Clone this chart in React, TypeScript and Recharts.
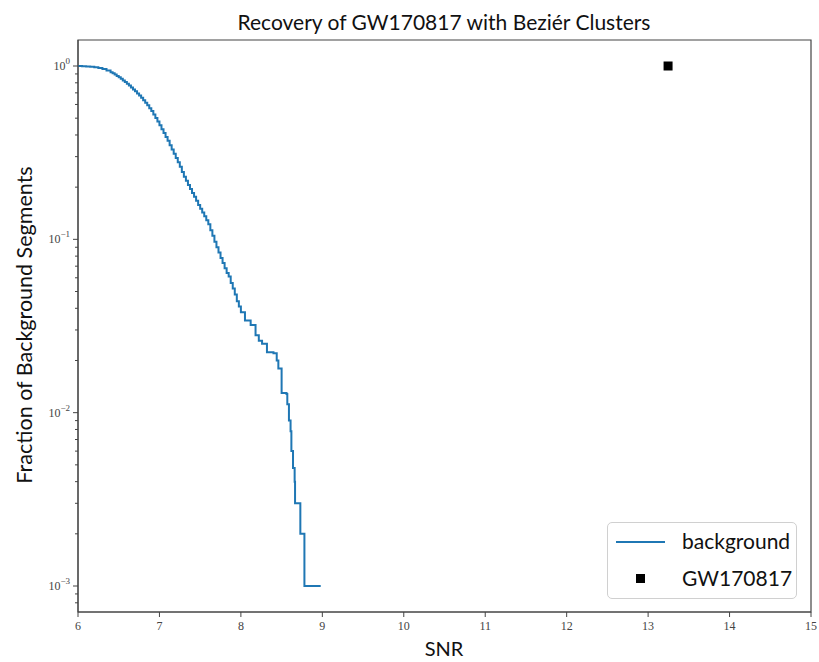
import React from 'react'
import {
  ComposedChart,
  Line,
  Scatter,
  XAxis,
  YAxis,
  ReferenceArea
} from 'recharts'

// background survival curve: SNR vs fraction of background segments
const bgSnr = [
  6.0, 6.05, 6.1, 6.15, 6.2, 6.25, 6.3, 6.35,
  6.4, 6.425, 6.45, 6.475, 6.5, 6.525, 6.55, 6.575,
  6.6, 6.625, 6.65, 6.675, 6.7, 6.725, 6.75, 6.775,
  6.8, 6.825, 6.85, 6.875, 6.9, 6.925, 6.95, 6.975,
  7.0, 7.025, 7.05, 7.075, 7.1, 7.125, 7.15, 7.175,
  7.2, 7.225, 7.25, 7.275, 7.3, 7.325, 7.35, 7.375,
  7.4, 7.425, 7.45, 7.475, 7.5, 7.525, 7.55, 7.575,
  7.6, 7.625, 7.65, 7.675, 7.7, 7.725, 7.75, 7.775,
  7.8, 7.825, 7.85, 7.875, 7.9, 7.925, 7.95, 7.975,
  8.0, 8.05, 8.12, 8.18, 8.22, 8.26, 8.32, 8.4,
  8.44, 8.46, 8.5, 8.56, 8.57, 8.59, 8.61, 8.62,
  8.64, 8.66, 8.665, 8.73, 8.78, 8.98
]
const bgFrac = [
  1.0, 0.998, 0.995, 0.99, 0.985, 0.975, 0.96, 0.942,
  0.92, 0.907, 0.893, 0.877, 0.86, 0.843, 0.826, 0.808,
  0.79, 0.771, 0.752, 0.733, 0.715, 0.695, 0.675, 0.655,
  0.635, 0.614, 0.593, 0.571, 0.55, 0.525, 0.502, 0.478,
  0.455, 0.432, 0.41, 0.39, 0.37, 0.349, 0.33, 0.312,
  0.295, 0.278, 0.262, 0.245, 0.23, 0.218, 0.206, 0.195,
  0.185, 0.176, 0.167, 0.158, 0.15, 0.143, 0.136, 0.129,
  0.122, 0.113, 0.105, 0.097, 0.09, 0.084, 0.078, 0.073,
  0.068, 0.064, 0.061, 0.056, 0.052, 0.048, 0.044, 0.041,
  0.038, 0.034, 0.032, 0.028, 0.026, 0.025, 0.0223, 0.022,
  0.02, 0.018, 0.013, 0.0128, 0.0112, 0.009, 0.0078, 0.006,
  0.0048, 0.004, 0.003, 0.002, 0.001, 0.001
]

const gwSnr = [13.245]
const gwFrac = [1.0]

const xTicks = [6, 7, 8, 9, 10, 11, 12, 13, 14, 15]
const yMajor = [1, 0.1, 0.01, 0.001]
const yMajorLabels = ['0', '\u22121', '\u22122', '\u22123']
const yMinor = [
  0.9, 0.8, 0.7, 0.6, 0.5, 0.4, 0.3, 0.2,
  0.09, 0.08, 0.07, 0.06, 0.05, 0.04, 0.03, 0.02,
  0.009, 0.008, 0.007, 0.006, 0.005, 0.004, 0.003, 0.002,
  0.0009, 0.0008
]

const yMin = Math.pow(10, -3.15)
const yMax = Math.pow(10, 0.15)

const bgData = bgSnr.map((snr, i) => ({ snr, frac: bgFrac[i] }))
const gwData = gwSnr.map((snr, i) => ({ snr, frac: gwFrac[i] }))

const BLUE = '#1f77b4'
const AXIS = '#444'
const SANS = 'Lato, "Open Sans", sans-serif'
const SERIF = '"Liberation Serif", "DejaVu Serif", serif'

const YTick = ({ x, y, payload }: any) => {
  const v = payload.value
  const idx = yMajor.findIndex(m => Math.abs(m - v) / m < 1e-6)
  const major = idx >= 0
  return (
    <g>
      <line x1={x} x2={x - (major ? 5 : 3)} y1={y} y2={y} stroke={AXIS} strokeWidth={1} />
      {major && (
        <text x={x - 8} y={y + 4} textAnchor="end" fontFamily={SERIF} fontSize={12} fill="#444">
          10
          <tspan dy={-6} fontSize={9}>{yMajorLabels[idx]}</tspan>
        </text>
      )}
    </g>
  )
}

const GwSquare = ({ cx, cy }: any) => (
  <rect x={cx - 4.5} y={cy - 4.5} width={9} height={9} fill="#000" />
)

export default function App() {
  return (
    <div style={{ position: 'absolute', left: 0, top: 0, width: 819, height: 662, background: '#fff' }}>
      <ComposedChart
        width={819}
        height={662}
        data={bgData}
        margin={{ top: 40, right: 8, bottom: 20, left: 18 }}
      >
        <text x={444} y={30} textAnchor="middle" fontFamily={SANS} fontSize={21} fill="#111">
          Recovery of GW170817 with Beziér Clusters
        </text>
        <text x={444} y={656} textAnchor="middle" fontFamily={SANS} fontSize={20} fill="#111">
          SNR
        </text>
        <text
          x={32}
          y={325}
          textAnchor="middle"
          transform="rotate(-90 32 325)"
          fontFamily={SANS}
          fontSize={21.5}
          fill="#111"
        >
          Fraction of Background Segments
        </text>
        <XAxis
          dataKey="snr"
          type="number"
          domain={[6, 15]}
          ticks={xTicks}
          allowDataOverflow
          height={30}
          tickSize={5}
          tickMargin={4}
          stroke={AXIS}
          tick={{ fontFamily: SERIF, fontSize: 12, fill: '#444' }}
        />
        <YAxis
          type="number"
          scale="log"
          domain={[yMin, yMax]}
          allowDataOverflow
          ticks={[...yMajor, ...yMinor]}
          interval={0}
          width={60}
          tickSize={0}
          tickMargin={0}
          tickLine={false}
          stroke={AXIS}
          tick={<YTick />}
        />
        <ReferenceArea x1={6} x2={15} y1={yMin} y2={yMax} fill="none" stroke={AXIS} strokeWidth={1.2} ifOverflow="visible" />
        <Line
          dataKey="frac"
          type="stepAfter"
          stroke={BLUE}
          strokeWidth={2}
          dot={false}
          isAnimationActive={false}
        />
        <Scatter data={gwData} dataKey="frac" shape={<GwSquare />} isAnimationActive={false} />
      </ComposedChart>
      <div
        style={{
          position: 'absolute',
          left: 607,
          top: 522,
          width: 190,
          height: 77,
          border: '1px solid #d0d0d0',
          borderRadius: 5,
          background: 'rgba(255,255,255,0.85)',
          boxSizing: 'border-box',
          fontFamily: SANS,
          fontSize: 21,
          color: '#111'
        }}
      >
        <svg width={190} height={77} style={{ position: 'absolute', left: -1, top: -1 }}>
          <line x1={9} x2={58} y1={20} y2={20} stroke={BLUE} strokeWidth={2} />
          <rect x={29} y={52} width={9} height={9} fill="#000" />
          <text x={75} y={27} fontFamily={SANS} fontSize={21} fill="#111">background</text>
          <text x={75} y={64} fontFamily={SANS} fontSize={21} fill="#111">GW170817</text>
        </svg>
      </div>
    </div>
  )
}
